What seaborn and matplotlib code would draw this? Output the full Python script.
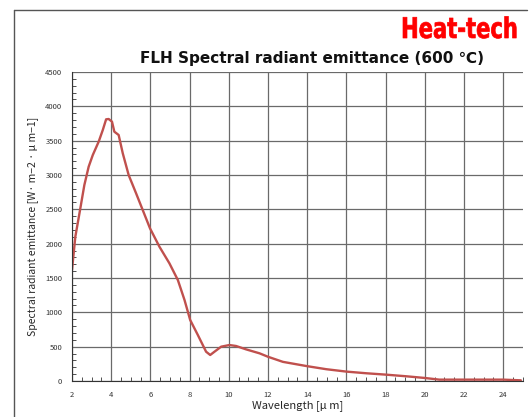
import numpy as np
import pandas as pd
import matplotlib
matplotlib.use("Agg")
import matplotlib.pyplot as plt
from matplotlib.lines import Line2D
from matplotlib.ticker import MultipleLocator
from matplotlib.patheffects import AbstractPathEffect
from matplotlib.transforms import Affine2D
import seaborn as sns

# values
wavelength = [2.00, 2.17, 2.41, 2.63, 2.85, 3.06, 3.36, 3.57, 3.74, 3.87, 4.04, 4.16,
              4.38, 4.59, 4.89, 5.27, 5.98, 6.46, 6.97, 7.40, 7.74, 8.03, 8.42, 8.84,
              9.05, 9.27, 9.61, 10.03, 10.37, 10.88, 11.57, 12.00, 12.76, 14.00, 14.97,
              16.00, 17.01, 18.00, 19.05, 20.01, 20.74, 22.00, 24.00, 24.90]
emittance = [1617, 2102, 2490, 2854, 3121, 3291, 3485, 3655, 3811, 3816, 3777, 3631,
             3583, 3316, 3000, 2733, 2223, 1956, 1714, 1471, 1180, 888, 670, 427,
             379, 427, 500, 524, 510, 461, 403, 353, 279, 216, 172,
             137, 113, 93, 69, 44, 20, 20, 20, 10]

df = pd.DataFrame({'wl': wavelength, 'E': emittance})


class Condense(AbstractPathEffect):
    # squeeze glyphs horizontally around a fixed x (display px)
    def __init__(self, sx, x0, lw=0.5):
        super().__init__()
        self.sx, self.x0, self.lw = sx, x0, lw

    def draw_path(self, renderer, gc, tpath, affine, rgbFace=None):
        t = affine + Affine2D().translate(-self.x0, 0).scale(self.sx, 1).translate(self.x0, 0)
        gc0 = renderer.new_gc()
        gc0.copy_properties(gc)
        gc0.set_foreground(rgbFace)
        gc0.set_linewidth(self.lw)
        renderer.draw_path(gc0, tpath, t, rgbFace)
        gc0.restore()


sns.set_style('white')
plt.rcParams['font.family'] = ['Noto Sans CJK JP', 'DejaVu Sans']

fig = plt.figure(figsize=(5.31, 4.17), dpi=100)
ax = fig.add_axes([0.1356, 0.0863, 0.849, 0.741])

sns.lineplot(data=df, x='wl', y='E', ax=ax, sort=False, color='#c0504d', lw=1.7)

ax.set_xlim(2, 25)
ax.set_ylim(0, 4500)
ax.xaxis.set_major_locator(MultipleLocator(2))
ax.xaxis.set_minor_locator(MultipleLocator(0.5))
ax.yaxis.set_major_locator(MultipleLocator(500))
ax.yaxis.set_minor_locator(MultipleLocator(100))
ax.grid(True, which='major', color='#6a6a6a', lw=0.9)
for s in ['top', 'right']:
    ax.spines[s].set_visible(False)
for s in ['left', 'bottom']:
    ax.spines[s].set_color('#333333')
    ax.spines[s].set_linewidth(0.8)
ax.tick_params(which='both', direction='in', labelsize=5.5, colors='#333333',
               bottom=True, left=True)
ax.tick_params(which='major', length=0, pad=7)
ax.tick_params(which='minor', length=3)

ax.set_xlabel('Wavelength [μ m]', fontsize=8, labelpad=1)
ax.set_ylabel('Spectral radiant emittance [W· m−2 · μ m−1]', fontsize=7.5, labelpad=5)

fig.text(0.588, 1 - 62.5 / 417, 'FLH Spectral radiant emittance (600 ℃)', ha='center',
         va='baseline', fontsize=11, fontweight='bold', color='#111111',
         family='DejaVu Sans')
fig.text(518 / 531, 1 - 38 / 417, 'Heat-tech', ha='right', va='baseline', fontsize=20.5,
         fontweight='bold', family='DejaVu Sans', color='#ff0000',
         path_effects=[Condense(0.74, 518)])

# outer frame of the picture
fig.add_artist(Line2D([14 / 531, 527 / 531], [1 - 10 / 417] * 2, transform=fig.transFigure,
                      color='#555555', lw=1))
fig.add_artist(Line2D([14 / 531] * 2, [0, 1 - 10 / 417], transform=fig.transFigure,
                      color='#555555', lw=1))

fig.savefig('out.png', dpi=100)
